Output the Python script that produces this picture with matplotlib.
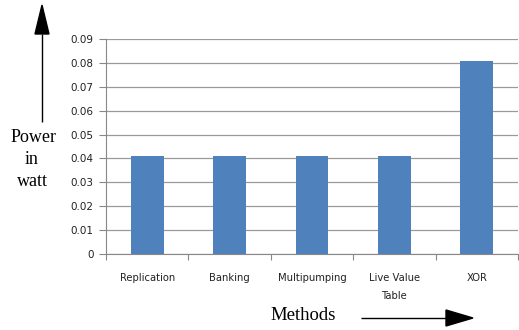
import numpy as np
from matplotlib import pyplot as plt

methods = ["Replication", "Banking", "Multipumping", "Live Value\nTable", "XOR"]
power = [0.041, 0.041, 0.041, 0.041, 0.081]
yticks = [0, 0.01, 0.02, 0.03, 0.04, 0.05, 0.06, 0.07, 0.08, 0.09]
ytick_labels = ["0", "0.01", "0.02", "0.03", "0.04", "0.05", "0.06", "0.07", "0.08", "0.09"]

W, H = 519, 330
fig = plt.figure(figsize=(W / 100, H / 100), dpi=100)
ax = fig.add_axes([106 / W, 1 - 254 / H, 412 / W, 215 / H])

x = np.arange(len(methods))
ax.bar(x, power, width=0.4, color="#4f81bd", zorder=3)
ax.set_xlim(-0.5, len(methods) - 0.5)
ax.set_ylim(0, 0.09)

ax.set_yticks(yticks)
ax.set_yticklabels(ytick_labels, fontsize=7.5, color="#222222")
ax.set_xticks(x)
ax.set_xticklabels(methods, fontsize=7.2, color="#222222", linespacing=1.9)
ax.tick_params(axis="x", length=0, pad=14)
ax.tick_params(axis="y", length=5, color="#888888", width=0.8, pad=4)
# category boundary ticks on the x axis
ax.set_xticks(np.arange(-0.5, len(methods)), minor=True)
ax.tick_params(axis="x", which="minor", length=4, color="#888888", width=0.8)

ax.grid(axis="y", color="#9a9a9a", linewidth=0.9, zorder=0)
for s in ["top", "right"]:
    ax.spines[s].set_visible(False)
for s in ["left", "bottom"]:
    ax.spines[s].set_color("#888888")
    ax.spines[s].set_linewidth(0.8)

# hand-drawn style annotations
serif = ["Liberation Serif", "DejaVu Serif"]
fig.text(34 / W, 1 - 138 / H, "Power", fontsize=13, family=serif, ha="center", va="center")
fig.text(32 / W, 1 - 160 / H, "in", fontsize=13, family=serif, ha="center", va="center")
fig.text(32 / W, 1 - 181 / H, "watt", fontsize=13, family=serif, ha="center", va="center")
fig.text(303 / W, 1 - 315 / H, "Methods", fontsize=13.5, family=serif, ha="center", va="center")

fig.patches.append(plt.Polygon([[42 / W, 1 - 122 / H], [42 / W, 1 - 34 / H]],
                               closed=False, transform=fig.transFigure, color="black", lw=1))
fig.patches.append(plt.Polygon([[35 / W, 1 - 34 / H], [49 / W, 1 - 34 / H], [42 / W, 1 - 5 / H]],
                               transform=fig.transFigure, color="black"))
fig.patches.append(plt.Polygon([[361 / W, 1 - 318 / H], [446 / W, 1 - 318 / H]],
                               closed=False, transform=fig.transFigure, color="black", lw=1))
fig.patches.append(plt.Polygon([[446 / W, 1 - 310 / H], [446 / W, 1 - 326 / H], [473 / W, 1 - 318 / H]],
                               transform=fig.transFigure, color="black"))

fig.savefig("out.png", dpi=100)
